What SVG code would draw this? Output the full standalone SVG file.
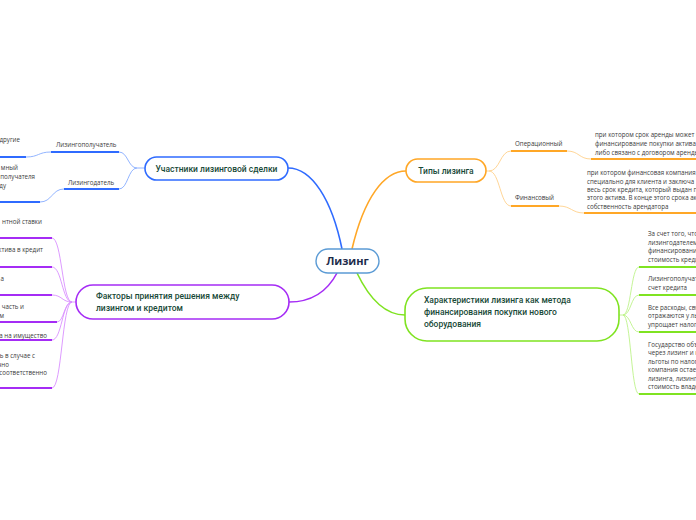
<svg xmlns="http://www.w3.org/2000/svg" width="696" height="520" viewBox="0 0 696 520">
<style>
.bg{fill:#ffffff}
.node{fill:#ffffff;stroke-width:1.6}
.title{font-family:Roboto,"Open Sans",sans-serif;font-size:8.5px;font-weight:500;fill:#184a38}
.center{font-family:"Open Sans",sans-serif;font-size:11px;font-weight:700;fill:#1c2b4b}
.lbl{font-family:"Open Sans",sans-serif;font-size:6.2px;fill:#3a3a3a}
.c{fill:none;stroke-width:1.6}
.s{fill:none;stroke-width:0.9}
.u{fill:none;stroke-width:2}
.blue{stroke:#2f6bff}.blueL{stroke:#86acff}
.orange{stroke:#ffa726}.orangeL{stroke:#ffd08a}
.purple{stroke:#a52cf5}.purpleL{stroke:#d990ff}
.green{stroke:#7fe321}.greenL{stroke:#bdf38a}
</style>
<rect class="bg" x="0" y="0" width="696" height="520"/>
<g id="connectors">
  <path class="c blue" d="M342 249 C332 200 312 168 288 168"/>
  <path class="c orange" d="M352 249 C364 198 384 171 406 171"/>
  <path class="c purple" d="M337 273 C326 294 308 302 289 302"/>
  <path class="c green" d="M357 273 C370 300 386 315 405 315"/>
  <path class="s blueL" d="M145 168 L137 168"/>
  <path class="s blueL" d="M137 168 C128 168 128 152 119 152"/>
  <path class="s blueL" d="M137 168 C128 168 128 189 119 189"/>
  <path class="s blueL" d="M51 152 C38 152 39 157 26 157"/>
  <path class="s blueL" d="M64 189 C52 189 52 202 40 202"/>
  <path class="s orangeL" d="M486 171 L489 171"/>
  <path class="s orangeL" d="M489 171 C500 171 500 151 511 151"/>
  <path class="s orangeL" d="M489 171 C500 171 500 206 511 206"/>
  <path class="s orangeL" d="M567 151 C579 151 579 159 591 159"/>
  <path class="s orangeL" d="M559 206 C571 206 572 213 584 213"/>
  <path class="s purpleL" d="M76 302 L72 302"/>
  <path class="s purpleL" d="M72 302 C62 302 62 238 52 238"/>
  <path class="s purpleL" d="M72 302 C62 302 62 267 52 267"/>
  <path class="s purpleL" d="M72 302 C62 302 62 295 52 295"/>
  <path class="s purpleL" d="M72 302 C64 302 64 322 57 322"/>
  <path class="s purpleL" d="M72 302 C62 302 62 340 52 340"/>
  <path class="s purpleL" d="M72 302 C62 302 62 388 52 388"/>
  <path class="s greenL" d="M619 315 L623 315"/>
  <path class="s greenL" d="M623 315 C631 315 631 267 639 267"/>
  <path class="s greenL" d="M623 315 C631 315 631 295 639 295"/>
  <path class="s greenL" d="M623 315 C631 315 631 332 639 332"/>
  <path class="s greenL" d="M623 315 C631 315 631 394 639 394"/>
</g>
<g id="n-center">
  <rect class="node" x="316" y="249" width="63" height="24" rx="12" style="stroke:#5b9bd5;stroke-width:1.4"/>
  <text class="center" x="347.5" y="265" text-anchor="middle">Лизинг</text>
</g>
<g id="n-participants">
  <rect class="node blue" x="145" y="157" width="143" height="23" rx="11.5"/>
  <text class="title" x="216.5" y="171.5" text-anchor="middle">Участники лизинговой сделки</text>
</g>
<g id="n-lessee">
  <path class="u blue" d="M51 152 H119"/>
  <text class="lbl" x="56" y="147">Лизингополучатель</text>
</g>
<g id="n-lessor">
  <path class="u blue" d="M64 189 H119"/>
  <text class="lbl" x="68" y="185">Лизингодатель</text>
</g>
<g id="n-lessee-1">
  <path class="u blue" d="M0 157 H26"/>
  <text class="lbl" x="20" y="142" text-anchor="end">другие</text>
</g>
<g id="n-lessor-1">
  <path class="u blue" d="M0 202 H40"/>
  <text class="lbl" text-anchor="end"><tspan x="18" y="170">мный</tspan><tspan x="35" y="179">получателя</tspan><tspan x="6" y="188">ду</tspan></text>
</g>
<g id="n-types">
  <rect class="node orange" x="406" y="159" width="80" height="23" rx="11.5"/>
  <text class="title" x="446" y="174" text-anchor="middle">Типы лизинга</text>
</g>
<g id="n-operational">
  <path class="u orange" d="M511 151 H567"/>
  <text class="lbl" x="515" y="146">Операционный</text>
</g>
<g id="n-financial">
  <path class="u orange" d="M511 206 H559"/>
  <text class="lbl" x="515" y="200">Финансовый</text>
</g>
<g id="n-operational-1">
  <path class="u orange" d="M591 159 H696"/>
  <text class="lbl"><tspan x="595" y="137">при котором срок аренды может б</tspan><tspan x="595" y="146">финансирование покупки актива</tspan><tspan x="595" y="154.5">либо связано с договором аренды</tspan></text>
</g>
<g id="n-financial-1">
  <path class="u orange" d="M584 213 H696"/>
  <text class="lbl"><tspan x="587" y="175">при котором финансовая компания</tspan><tspan x="587" y="183.5">специально для клиента и заключа</tspan><tspan x="587" y="192">весь срок кредита, который выдан п</tspan><tspan x="587" y="200">этого актива. В конце этого срока ак</tspan><tspan x="587" y="208.5">собственность арендатора</tspan></text>
</g>
<g id="n-factors">
  <rect class="node purple" x="76" y="285" width="213" height="34" rx="17"/>
  <text class="title"><tspan x="96" y="299">Факторы принятия решения между</tspan><tspan x="96" y="310.5">лизингом и кредитом</tspan></text>
</g>
<g id="n-factor-1">
  <path class="u purple" d="M0 238 H52"/>
  <text class="lbl" x="42" y="224" text-anchor="end">нтной ставки</text>
</g>
<g id="n-factor-2">
  <path class="u purple" d="M0 267 H52"/>
  <text class="lbl" x="43" y="252" text-anchor="end">ктива в кредит</text>
</g>
<g id="n-factor-3">
  <path class="u purple" d="M0 295 H52"/>
  <text class="lbl" x="4" y="281" text-anchor="end">а</text>
</g>
<g id="n-factor-4">
  <path class="u purple" d="M0 322 H57"/>
  <text class="lbl" text-anchor="end"><tspan x="24" y="309">часть и</tspan><tspan x="4" y="318">м</tspan></text>
</g>
<g id="n-factor-5">
  <path class="u purple" d="M0 340 H52"/>
  <text class="lbl" x="47" y="338" text-anchor="end">а на имущество</text>
</g>
<g id="n-factor-6">
  <path class="u purple" d="M0 388 H52"/>
  <text class="lbl" text-anchor="end"><tspan x="35" y="358">ь в случае с</tspan><tspan x="9" y="366.5">чно</tspan><tspan x="47" y="375">соответственно</tspan></text>
</g>
<g id="n-features">
  <rect class="node green" x="405" y="288" width="214" height="53" rx="22"/>
  <text class="title"><tspan x="424" y="302.5">Характеристики лизинга как метода</tspan><tspan x="424" y="314.5">финансирования покупки нового</tspan><tspan x="424" y="326.5">оборудования</tspan></text>
</g>
<g id="n-feature-1">
  <path class="u green" d="M639 267 H696"/>
  <text class="lbl"><tspan x="648" y="236">За счет того, что</tspan><tspan x="648" y="244.5">лизингодателем</tspan><tspan x="648" y="253">финансировани</tspan><tspan x="648" y="261.5">стоимость кредита</tspan></text>
</g>
<g id="n-feature-2">
  <path class="u green" d="M639 295 H696"/>
  <text class="lbl"><tspan x="648" y="281">Лизингополучатель</tspan><tspan x="648" y="290">счет кредита</tspan></text>
</g>
<g id="n-feature-3">
  <path class="u green" d="M639 332 H696"/>
  <text class="lbl"><tspan x="648" y="309.5">Все расходы, свя</tspan><tspan x="648" y="318">отражаются у льз</tspan><tspan x="648" y="326.5">упрощает налого</tspan></text>
</g>
<g id="n-feature-4">
  <path class="u green" d="M639 394 H696"/>
  <text class="lbl"><tspan x="648" y="346.5">Государство объя</tspan><tspan x="648" y="355">через лизинг и к</tspan><tspan x="648" y="363.5">льготы по налогу</tspan><tspan x="648" y="372">компания остает</tspan><tspan x="648" y="380.5">лизинга, лизинго</tspan><tspan x="648" y="389">стоимость владе</tspan></text>
</g>
</svg>
